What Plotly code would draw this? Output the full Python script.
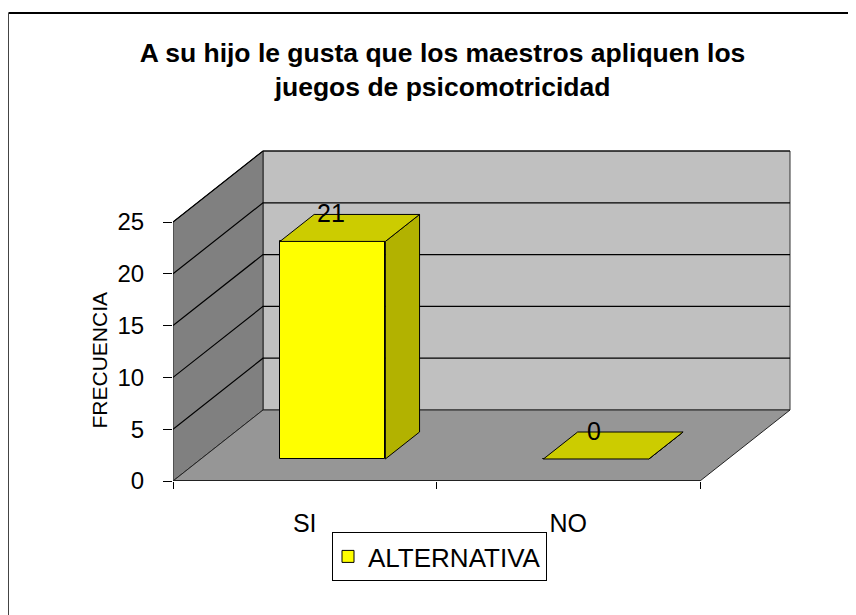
import plotly.graph_objects as go

# ---- data ----
categories = ["SI", "NO"]
values = [21, 0]
y_ticks = [0, 5, 10, 15, 20, 25]
series_name = "ALTERNATIVA"
title_text = "A su hijo le gusta que los maestros apliquen los<br>juegos de psicomotricidad"
y_title = "FRECUENCIA"

# ---- geometry (pseudo 3D projection) ----
W, H = 856, 615
OFF = 8                                # page body margin
L, R, T, B = 173 - OFF, 800 - OFF, 140 - OFF, 481 - OFF   # plot area in px
PX_X = 263.5                          # px per category band
PX_Y = 10.36                          # px per value unit
DX = 90 / PX_X                        # depth offset in x units
DY = 71 / PX_Y                        # depth offset in y units
F0, F1 = 0.31, 0.69                   # bar front / back depth fractions
BAR_W = 0.4
n = len(categories)
ymax = max(y_ticks)
FONT = "Liberation Sans, Arial, sans-serif"


def px_to_paper_x(px):
    return (px - OFF - L) / (R - L)


def px_to_paper_y(py):
    return (B - (py - OFF)) / (B - T)


def proj(x, v, f):
    return x + f * DX, v + f * DY


def path(pts):
    return "M " + " L ".join(f"{x},{y}" for x, y in pts) + " Z"


shapes = []
# back wall
shapes.append(dict(type="path", xref="x", yref="y", layer="below",
                   path=path([proj(0, 0, 1), proj(n, 0, 1), proj(n, ymax, 1), proj(0, ymax, 1)]),
                   fillcolor="#C0C0C0", line=dict(color="#333333", width=1)))
# left wall
shapes.append(dict(type="path", xref="x", yref="y", layer="below",
                   path=path([proj(0, 0, 0), proj(0, 0, 1), proj(0, ymax, 1), proj(0, ymax, 0)]),
                   fillcolor="#808080", line=dict(color="#222222", width=1)))
# gridlines on walls
for v in y_ticks[1:]:
    a = proj(0, v, 0)
    b = proj(0, v, 1)
    c = proj(n, v, 1)
    shapes.append(dict(type="path", xref="x", yref="y", layer="below",
                       path=f"M {a[0]},{a[1]} L {b[0]},{b[1]} L {c[0]},{c[1]}",
                       line=dict(color="#000000", width=1.2)))
# floor
shapes.append(dict(type="path", xref="x", yref="y", layer="below",
                   path=path([proj(0, 0, 0), proj(n, 0, 0), proj(n, 0, 1), proj(0, 0, 1)]),
                   fillcolor="#969696", line=dict(color="#222222", width=1)))
shapes.append(dict(type="line", xref="x", yref="y", layer="below",
                   x0=0, y0=0, x1=n, y1=0, line=dict(color="#222222", width=2)))
# outer frame
shapes.append(dict(type="line", xref="paper", yref="paper",
                   x0=px_to_paper_x(8.5), x1=px_to_paper_x(880),
                   y0=px_to_paper_y(13), y1=px_to_paper_y(13),
                   line=dict(color="#000000", width=2)))
shapes.append(dict(type="line", xref="paper", yref="paper",
                   x0=px_to_paper_x(8.5), x1=px_to_paper_x(8.5),
                   y0=px_to_paper_y(13), y1=px_to_paper_y(640),
                   line=dict(color="#444444", width=1)))

fig = go.Figure()

centers = [i + 0.5 for i in range(n)]

# front faces (real bars)
fig.add_trace(go.Bar(
    x=[proj(c, 0, F0)[0] for c in centers],
    y=values,
    base=[F0 * DY] * n,
    width=BAR_W,
    marker=dict(color="#FFFF00", line=dict(color="#000000", width=1)),
    name=series_name, showlegend=True, hoverinfo="skip",
))

annotations = []
for c, v in zip(centers, values):
    xl, xr = c - BAR_W / 2, c + BAR_W / 2
    # side face
    pts = [proj(xr, 0, F0), proj(xr, 0, F1), proj(xr, v, F1), proj(xr, v, F0), proj(xr, 0, F0)]
    fig.add_trace(go.Scatter(x=[p[0] for p in pts], y=[p[1] for p in pts], mode="lines",
                             fill="toself", fillcolor="#B2B200",
                             line=dict(color="#000000", width=1),
                             showlegend=False, hoverinfo="skip"))
    # top face
    pts = [proj(xl, v, F0), proj(xr, v, F0), proj(xr, v, F1), proj(xl, v, F1), proj(xl, v, F0)]
    fig.add_trace(go.Scatter(x=[p[0] for p in pts], y=[p[1] for p in pts], mode="lines",
                             fill="toself", fillcolor="#CCCC00",
                             line=dict(color="#000000", width=1),
                             showlegend=False, hoverinfo="skip"))
    lx, ly = proj(c, v, 0.5)
    annotations.append(dict(x=lx, y=ly, xref="x", yref="y", text=str(v), showarrow=False,
                            xshift=-19, yshift=15,
                            font=dict(family=FONT, size=25, color="#000000")))

annotations.append(dict(text=y_title, textangle=-90, xref="paper", yref="paper",
                        x=px_to_paper_x(98.5), y=px_to_paper_y(360),
                        xanchor="center", yanchor="middle", showarrow=False,
                        font=dict(family=FONT, size=21, color="#000000")))

fig.update_layout(
    width=W, height=H,
    margin=dict(l=L, r=W - R, t=T, b=H - B, pad=0),
    paper_bgcolor="white", plot_bgcolor="white",
    title=dict(text=title_text, x=(442.5 - OFF) / W, xref="container", xanchor="center",
               y=1 - 54 / H, yref="container", yanchor="top",
               font=dict(family=FONT, size=26.5, color="#000000", weight="bold")),
    xaxis=dict(range=[0, (R - L) / PX_X], tickvals=centers, ticktext=categories,
               ticks="", showgrid=False, zeroline=False, showline=False,
               ticklabelstandoff=25,
               tickfont=dict(family=FONT, size=25, color="#000000"),
               minor=dict(tickvals=list(range(n + 1)), ticks="outside", ticklen=7,
                          tickcolor="#000000", tickwidth=1, showgrid=False)),
    yaxis=dict(range=[0, (B - T) / PX_Y], tickvals=y_ticks, ticks="outside", ticklen=9,
               tickcolor="#000000", showgrid=False, zeroline=False, showline=False,
               ticklabelstandoff=14,
               tickfont=dict(family=FONT, size=24, color="#000000")),
    legend=dict(orientation="h", x=px_to_paper_x(332), y=px_to_paper_y(532),
                xanchor="left", yanchor="top", bordercolor="#000000", borderwidth=1,
                indentation=-5,
                bgcolor="white", font=dict(family=FONT, size=26, color="#000000")),
    shapes=shapes, annotations=annotations,
    bargap=0,
)

fig.write_html("out.html")
